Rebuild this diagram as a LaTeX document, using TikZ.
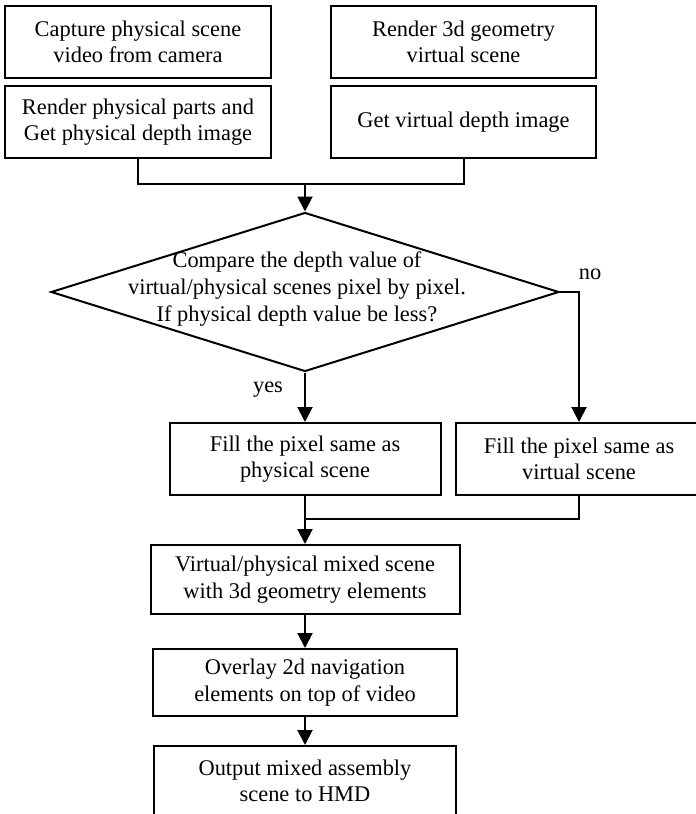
\documentclass[tikz,border=0pt]{standalone}
\usepackage{fontspec}
\setmainfont{Liberation Serif}
\usepackage{tikz}
\usetikzlibrary{shapes.geometric, arrows.meta, positioning}

\begin{document}
\begin{tikzpicture}[x=0.5pt, y=-0.5pt,
                box/.style={rectangle, draw, line width=1pt, inner sep=0pt,
                            minimum height=36pt, align=center,
                            font=\fontsize{11.2}{13.3}\selectfont},
                decision/.style={diamond, draw, line width=1pt, inner sep=0pt},
                lbl/.style={inner sep=0pt, align=center, font=\fontsize{11.2}{13.3}\selectfont},
                line/.style={line width=1pt},
                arr/.style={-{Triangle[length=7.5pt, width=7.5pt]}, line width=1pt}
            ]
                \path[use as bounding box, clip] (0,0) rectangle (696,814);

                % inputs
                \node[box, minimum width=133pt] (capture) at (138,42) {Capture physical scene\\video from camera};
                \node[box, minimum width=133pt] (physdepth) at (138,122) {Render physical parts and\\Get physical depth image};
                \node[box, minimum width=132.5pt] (geometry) at (463.5,42) {Render 3d geometry\\virtual scene};
                \node[box, minimum width=132.5pt] (virtdepth) at (463.5,122) {Get virtual depth image};

                % depth test
                \node[decision, minimum width=254pt, minimum height=79.5pt] (compare) at (305,292) {};
                \node[lbl] (comparetxt) at (297,289) {Compare the depth value of\\virtual/physical scenes pixel by pixel.\\If physical depth value be less?};
                \node[lbl] (yeslbl) at (268,390) {yes};
                \node[lbl] (nolbl) at (590,274) {no};

                \node[box, minimum width=135.5pt] (fillphys) at (305,459) {Fill the pixel same as\\physical scene};
                \node[box, minimum width=123pt] (fillvirt) at (579,459) {Fill the pixel same as\\virtual scene};

                % output chain
                \node[box, minimum width=154.5pt, minimum height=34.5pt] (mixed) at (305,579.5) {Virtual/physical mixed scene\\with 3d geometry elements};
                \node[box, minimum width=152pt, minimum height=33.5pt] (overlay) at (305,682.5) {Overlay 2d navigation\\elements on top of video};
                \node[box, minimum width=151pt, minimum height=35pt] (output) at (305,781) {Output mixed assembly\\scene to HMD};

                \coordinate (joindepth) at (305,184);
                \coordinate (joinfill) at (305,519);

                \draw[line] (physdepth.south) |- (joindepth) -| (virtdepth.south);
                \draw[arr] (joindepth) -- (compare.north);
                \draw[arr] (compare.south) -- (fillphys.north);
                \draw[arr] (compare.east) -| (fillvirt.north);
                \draw[line] (fillphys.south) -- (joinfill);
                \draw[line] (fillvirt.south) |- (joinfill);
                \draw[arr] (joinfill) -- (mixed.north);
                \draw[arr] (mixed) -- (overlay);
                \draw[arr] (overlay) -- (output);
            \end{tikzpicture}
\end{document}
